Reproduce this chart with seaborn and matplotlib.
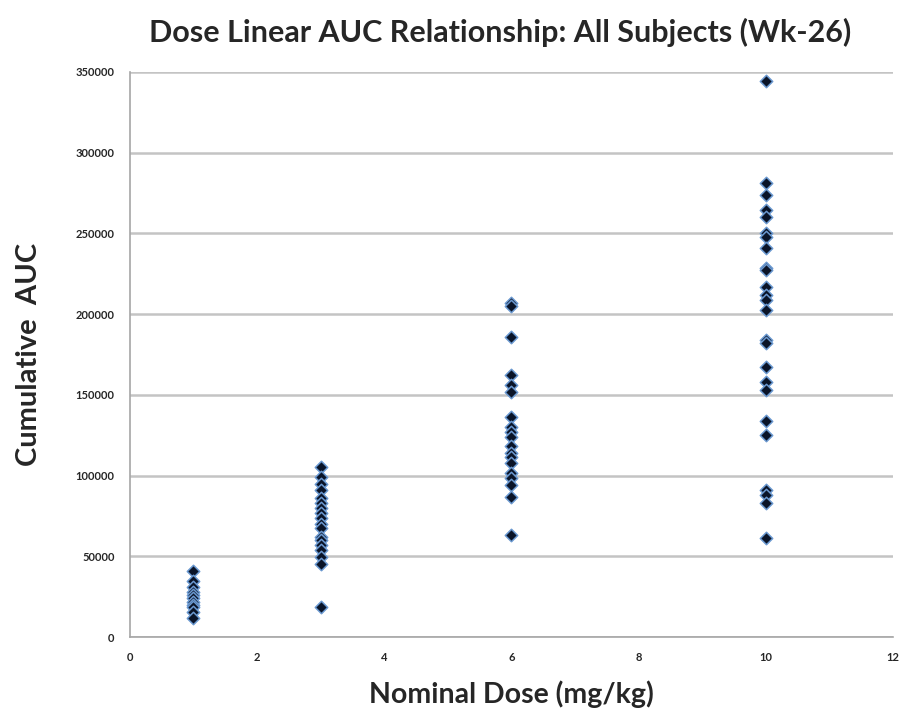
import numpy as np
import pandas as pd
import matplotlib
matplotlib.use("Agg")
import matplotlib.pyplot as plt
import seaborn as sns
from matplotlib.ticker import MultipleLocator, FormatStrFormatter

# Nominal dose groups (mg/kg) and cumulative AUC per subject
dose_1_auc = [41000, 35000, 31000, 28000, 26000, 24000, 22000, 20000, 18500, 15500, 12000]
dose_3_auc = [105000, 99000, 95000, 91000, 86000, 83000, 80000, 77000, 74000, 70000,
              67500, 62000, 60000, 57000, 54000, 49500, 45000, 18500]
dose_6_auc = [207000, 205000, 186000, 162000, 156000, 151500, 136000, 130000, 127000,
              124000, 118000, 114000, 111500, 108000, 101500, 98500, 94000, 87000, 63000]
dose_10_auc = [344500, 281000, 274000, 264500, 260000, 250500, 248000, 241000, 228500,
               227500, 216500, 212000, 209000, 202500, 184000, 182000, 167500, 158000,
               153000, 133500, 125000, 91000, 88000, 83000, 61500]

doses = [1, 3, 6, 10]
groups = [dose_1_auc, dose_3_auc, dose_6_auc, dose_10_auc]

df = pd.DataFrame({
    "dose": np.concatenate([[d] * len(g) for d, g in zip(doses, groups)]),
    "auc": np.concatenate(groups),
})

sns.set_style("white")
plt.rcParams["font.family"] = ["Lato", "DejaVu Sans"]

fig = plt.figure(figsize=(9.02, 7.11), dpi=100)
ax = fig.add_axes([0.144, 0.104, 0.846, 0.795])

sns.scatterplot(data=df, x="dose", y="auc", ax=ax, marker="D", s=40,
                color="#0a1428", edgecolor="#6a98d0", linewidth=1.1, zorder=3)

ax.set_xlim(0, 12)
ax.set_ylim(0, 350000)
ax.xaxis.set_major_locator(MultipleLocator(2))
ax.yaxis.set_major_locator(MultipleLocator(50000))
ax.yaxis.set_major_formatter(FormatStrFormatter("%d"))

ax.grid(axis="y", color="#c4c4c4", linewidth=1.8, zorder=0)
ax.grid(axis="x", visible=False)
ax.set_axisbelow(True)

for side in ["top", "right"]:
    ax.spines[side].set_visible(False)
for side in ["left", "bottom"]:
    ax.spines[side].set_color("#a6a6a6")
    ax.spines[side].set_linewidth(1.2)

ax.tick_params(axis="both", which="major", length=5, width=1, color="#a6a6a6",
               labelsize=8, direction="out", pad=6)
for lbl in ax.get_xticklabels() + ax.get_yticklabels():
    lbl.set_fontweight("bold")

ax.set_xlabel("Nominal Dose (mg/kg)", fontsize=20.5, fontweight="bold", labelpad=12)
ax.set_ylabel("Cumulative  AUC", fontsize=21, fontweight="bold", labelpad=24)
fig.suptitle("Dose Linear AUC Relationship: All Subjects (Wk-26)",
             fontsize=22, fontweight="bold", x=0.554, y=0.975)

fig.savefig("out.png", dpi=100, facecolor="white")
